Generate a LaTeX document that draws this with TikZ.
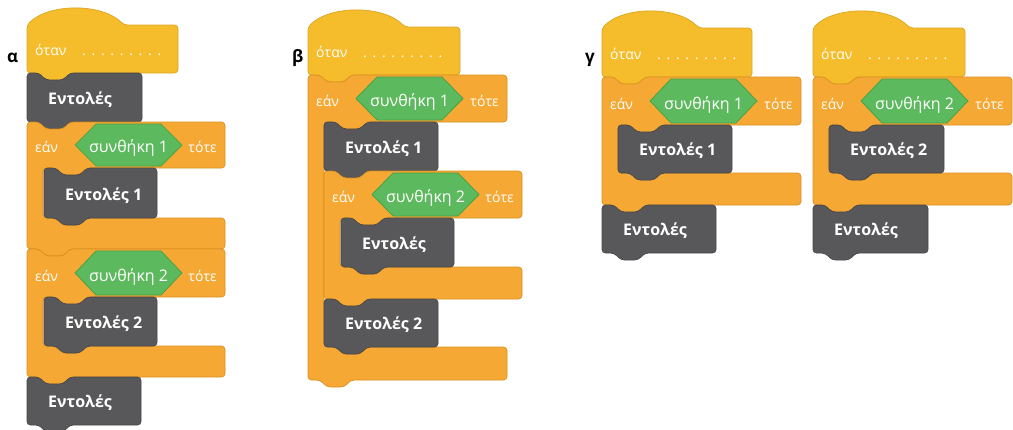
\documentclass[tikz,border=0pt]{standalone}
\usepackage{fontspec}
\setmainfont{Open Sans}
\usepackage{tikz}
\usetikzlibrary{positioning, calc}

\definecolor{hatyellow}{HTML}{F5BD2C}
\definecolor{hatedge}{HTML}{DCA521}
\definecolor{ctrlorange}{HTML}{F5A834}
\definecolor{ctrledge}{HTML}{D9901F}
\definecolor{cmdgrey}{HTML}{58585B}
\definecolor{cmdedge}{HTML}{47474A}
\definecolor{condgreen}{HTML}{5DB95E}
\definecolor{condedge}{HTML}{43A045}

\tikzset{
  hatblk/.style={fill=hatyellow, draw=hatedge, line width=0.7pt, rounded corners=3.5pt},
  ifblk/.style={fill=ctrlorange, draw=ctrledge, line width=0.7pt, rounded corners=3.5pt},
  cmdblk/.style={fill=cmdgrey, draw=cmdedge, line width=0.7pt, rounded corners=3.5pt},
  condblk/.style={fill=condgreen, draw=condedge, line width=0.7pt, line join=round},
  lighttext/.style={text=white, font=\fontsize{14}{16}\selectfont, inner sep=0pt, anchor=base west},
  condtext/.style={text=white, font=\fontsize{16}{18}\selectfont, inner sep=0pt, anchor=base},
  cmdtext/.style={text=white, font=\bfseries\fontsize{16}{18}\selectfont, inner sep=0pt, anchor=base west},
  panel/.style={text=black, font=\bfseries\fontsize{17}{19}\selectfont, inner sep=0pt, anchor=base west},
}

\newcommand{\dotgap}{\hspace{5.7pt}}

% hat block: name, left, top, right, bottom
\newcommand{\hatblock}[5]{%
  \filldraw[hatblk] (#2,#3) .. controls (#2+22,#3-22) and (#2+75,#3-22) .. (#2+97,#3)
    -- (#4,#3) -- (#4,#5) -- (#2+43,#5) -- (#2+36,#5+7) -- (#2+19,#5+7) -- (#2+12,#5)
    -- (#2,#5) -- cycle;
  \node[lighttext] (#1-when) at (#2+8,#5-18) {όταν};
  \node[lighttext] (#1-dots) at (#2+55,#5-18)
    {.\dotgap.\dotgap.\dotgap.\dotgap.\dotgap.\dotgap.\dotgap.\dotgap.};
}

% stack block: name, left, top, right, bottom, text
\newcommand{\cmdblock}[6]{%
  \filldraw[cmdblk] (#2,#3) -- (#2+12,#3) -- (#2+19,#3+7) -- (#2+36,#3+7) -- (#2+43,#3)
    -- (#4,#3) -- (#4,#5) -- (#2+43,#5) -- (#2+36,#5+7) -- (#2+19,#5+7) -- (#2+12,#5)
    -- (#2,#5) -- cycle;
  \node[cmdtext] (#1) at (#2+21,#5-18) {#6};
}

% if block: name, left, top, right, arm bottom, lower arm top, bottom, condition
\newcommand{\ifblock}[8]{%
  \filldraw[ifblk] (#2,#3) -- (#2+12,#3) -- (#2+19,#3+7) -- (#2+36,#3+7) -- (#2+43,#3)
    -- (#4,#3) -- (#4,#5)
    -- (#2+59,#5) -- (#2+52,#5+7) -- (#2+35,#5+7) -- (#2+28,#5) -- (#2+16,#5)
    -- (#2+16,#6)
    -- (#2+28,#6) -- (#2+35,#6+7) -- (#2+52,#6+7) -- (#2+59,#6) -- (#4,#6)
    -- (#4,#7) -- (#2+43,#7) -- (#2+36,#7+7) -- (#2+19,#7+7) -- (#2+12,#7)
    -- (#2,#7) -- cycle;
  \filldraw[condblk] (#2+48,{(#3+#5)/2}) -- (#2+69,#3+2) -- (#2+134,#3+2)
    -- (#2+155,{(#3+#5)/2}) -- (#2+134,#5-2) -- (#2+69,#5-2) -- cycle;
  \node[lighttext] (#1-if) at (#2+8,#5-16) {εάν};
  \node[condtext] (#1-cond) at (#2+101.5,#5-16) {#8};
  \node[lighttext, anchor=base east] (#1-then) at (#4-8,#5-16) {τότε};
}

\begin{document}
\begin{tikzpicture}[x=1pt, y=-1pt]
  \useasboundingbox (0,0) rectangle (1013,429);

  % panel alpha: two ifs one after the other
  \node[panel] (labA) at (7,62) {α};
  \hatblock{hatA}{27}{25}{178}{73}
  \cmdblock{cmdA}{27}{73}{142}{122}{Εντολές}
  \ifblock{ifA1}{27}{122}{225}{168}{218}{249}{συνθήκη 1}
  \cmdblock{cmdA1}{44}{168}{157}{218}{Εντολές 1}
  \ifblock{ifA2}{27}{249}{225}{297}{346}{377}{συνθήκη 2}
  \cmdblock{cmdA2}{44}{297}{157}{346}{Εντολές 2}
  \cmdblock{cmdAend}{27}{377}{141}{425}{Εντολές}

  % panel beta: one if inside the other
  \node[panel] (labB) at (292,62) {β};
  \hatblock{hatB}{308}{27}{460}{75}
  \ifblock{ifB1}{308}{75}{507}{122}{347}{380}{συνθήκη 1}
  \cmdblock{cmdB1}{324}{122}{438}{171}{Εντολές 1}
  \ifblock{ifB2}{324}{171}{522}{218}{267}{299}{συνθήκη 2}
  \cmdblock{cmdBin}{341}{218}{454}{267}{Εντολές}
  \cmdblock{cmdB2}{324}{299}{438}{347}{Εντολές 2}

  % panel gamma: two separate scripts
  \node[panel] (labC) at (585,62) {γ};
  \hatblock{hatC1}{602}{28}{752}{77}
  \ifblock{ifC1}{602}{77}{801}{125}{173}{205}{συνθήκη 1}
  \cmdblock{cmdC1}{618}{125}{732}{173}{Εντολές 1}
  \cmdblock{cmdC1end}{602}{205}{716}{253}{Εντολές}

  \hatblock{hatC2}{813}{28}{965}{77}
  \ifblock{ifC2}{813}{77}{1012}{125}{173}{205}{συνθήκη 2}
  \cmdblock{cmdC2}{829}{125}{944}{173}{Εντολές 2}
  \cmdblock{cmdC2end}{813}{205}{928}{253}{Εντολές}
\end{tikzpicture}
\end{document}
